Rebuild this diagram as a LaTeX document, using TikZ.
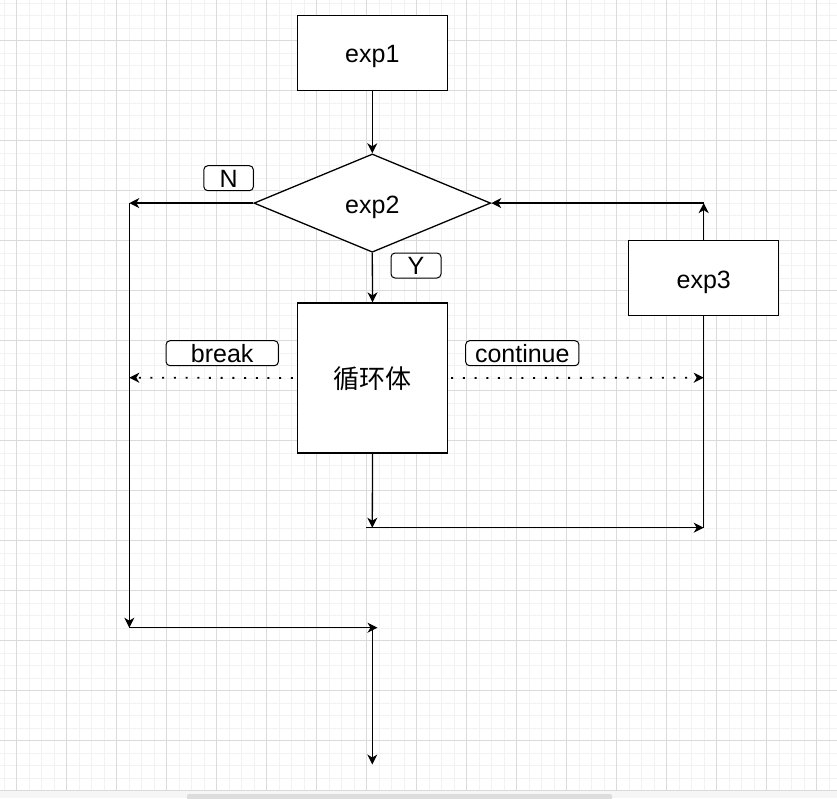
\documentclass[tikz,border=0pt]{standalone}
\usepackage{fontspec}
\setmainfont{Liberation Sans}
\newfontfamily\cjkfont{Noto Sans CJK SC}
\usetikzlibrary{shapes.geometric,arrows.meta}
\definecolor{gridminor}{RGB}{242,242,242}
\definecolor{gridmajor}{RGB}{218,218,218}
\definecolor{barbg}{RGB}{246,246,246}
\definecolor{barfg}{RGB}{221,221,221}
\tikzset{
  txt/.style={font=\fontsize{25}{30}\selectfont, text height=20pt, text depth=0pt},
  stepbox/.style={txt, draw, line width=1.3pt, fill=white, minimum width=150pt, minimum height=75pt, inner sep=0pt},
  decbox/.style={txt, draw, shape=diamond, line width=1.3pt, fill=white, minimum width=236.7pt, minimum height=98.3pt, inner sep=0pt},
  lbl/.style={font=\fontsize{25}{30}\selectfont, text height=18pt, text depth=0pt, draw, line width=1pt, rounded corners=4pt, fill=white, inner sep=0pt, minimum height=25pt},
  conn/.style={line width=1.3pt, -{Stealth[length=10pt,width=10pt,inset=3pt]}},
  plainconn/.style={line width=1.3pt},
  dotconn/.style={conn, dash pattern=on 2pt off 9.7pt, line width=1.8pt}
}
\begin{document}
\begin{tikzpicture}[x=1pt,y=-1pt]
\useasboundingbox (0,0) rectangle (837,798);
\fill[white] (0,0) rectangle (837,798);
% grid
\foreach \i in {0,...,66} \draw[gridminor, line width=1pt] ({4.17+12.5*\i},0) -- ({4.17+12.5*\i},790.5);
\foreach \j in {0,...,62} \draw[gridminor, line width=1pt] (0,{3+12.5*\j}) -- (837,{3+12.5*\j});
\foreach \i in {0,...,16} \draw[gridmajor, line width=1pt] ({16.67+50*\i},0) -- ({16.67+50*\i},790.5);
\foreach \j in {0,...,15} \draw[gridmajor, line width=1pt] (0,{40.5+50*\j}) -- (837,{40.5+50*\j});
% bottom band
\fill[barbg] (0,791) rectangle (837,798);
\fill[barfg, rounded corners=2pt] (187,794) rectangle (612,800);

% nodes
\node[stepbox] (e1) at (372.3,52.8) {exp1};
\node[decbox] (e2) at (372.3,203.1) {exp2};
\node[stepbox, minimum height=150pt, font=\fontsize{26}{30}\cjkfont] (body) at (372.5,378) {循环体};
\node[stepbox] (e3) at (703.7,278.2) {exp3};

\node[lbl, minimum width=49.5pt] (lN) at (228.6,178.2) {N};
\node[lbl, minimum width=50pt] (lY) at (416,265.5) {Y};
\node[lbl, minimum width=112.3pt] (lbreak) at (222.2,353.2) {break};
\node[lbl, minimum width=113.3pt] (lcont) at (522.3,353.2) {continue};

% junction points
\coordinate (nl) at (129.3,203.1);
\coordinate (bl) at (129.3,627.7);
\coordinate (br) at (377.5,627.7);
\coordinate (bd) at (372.3,627.7);
\coordinate (out) at (372.3,764.5);
\coordinate (brk) at (129.3,377.7);
\coordinate (cnt) at (703.7,377.7);
\coordinate (bb) at (372.3,527.7);
\coordinate (bbl) at (366,527.7);
\coordinate (rb) at (703.7,527.7);
\coordinate (rt) at (703.7,203.1);

% connectors
\draw[conn] (e1.south) -- (e2.north);
\draw[conn] (e2.west) -- (nl);
\draw[conn] (nl) -- (bl);
\draw[conn] (bl) -- (br);
\draw[conn] (bd) -- (out);
\draw[conn] (e2.south) -- (body.north);
\draw[dotconn] ([xshift=-4pt]body.west) -- (brk);
\draw[dotconn] ([xshift=3pt]body.east) -- (cnt);
\draw[conn] (body.south) -- (bb);
\draw[conn] (bbl) -- (rb);
\draw[plainconn] (rb) -- (e3.south);
\draw[conn] (e3.north) -- (rt);
\draw[conn] (rt) -- (e2.east);
\end{tikzpicture}
\end{document}
